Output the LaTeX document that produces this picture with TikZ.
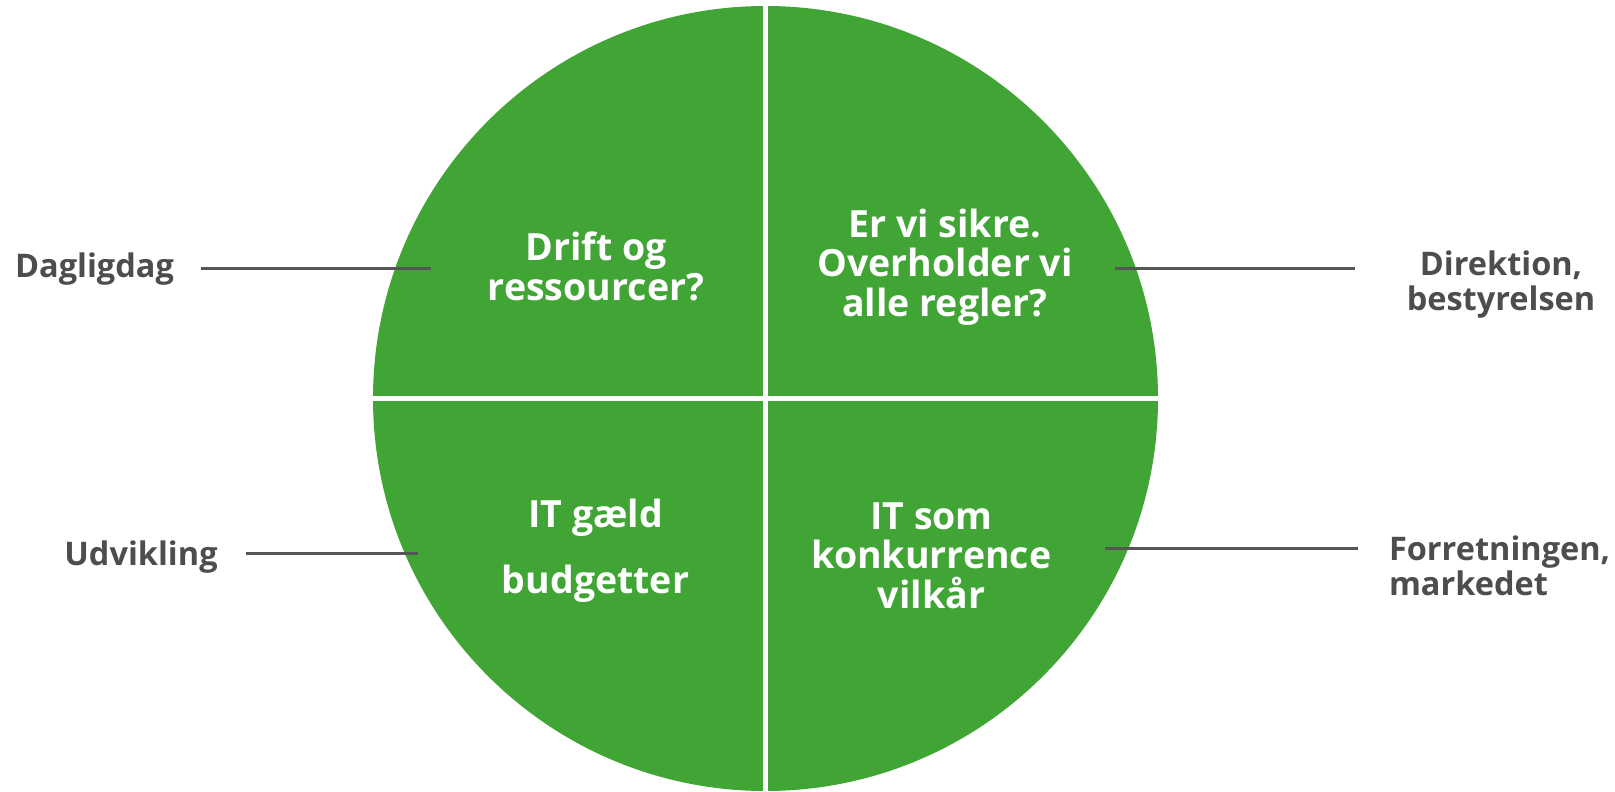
\documentclass[tikz,border=0pt]{standalone}
\usepackage{fontspec}
\setmainfont{Open Sans}
\definecolor{quadgreen}{RGB}{64,165,53}
\definecolor{labelgray}{RGB}{77,77,77}
\definecolor{leadgray}{RGB}{85,85,85}
\begin{document}
\begin{tikzpicture}[x=1pt,y=-1pt,
  quad/.style={text=white, align=center, inner sep=0pt, anchor=base, font=\bfseries\fontsize{37.5}{39.5}\selectfont},
  side/.style={text=labelgray, inner sep=0pt, outer xsep=27pt, anchor=base, font=\bfseries\fontsize{32.5}{34.5}\selectfont},
  leader/.style={draw=leadgray, line width=3pt},
  divider/.style={draw=white, line width=5pt}]
\useasboundingbox (0,0) rectangle (1615,792);

\node[circle, fill=quadgreen, inner sep=0pt, minimum size=785pt] (disc) at (765.5,398.5) {};
\path[divider] (disc.north) -- (disc.south);
\path[divider] (disc.west) -- (disc.east);

\node[quad] (drift) at (596,300) {Drift og\\ressourcer?};
\node[quad] (sikre) at (945,316) {Er vi sikre.\\Overholder vi\\alle regler?};
\node[quad] (gaeld) at (595.5,593) {IT gæld\\[26.5pt]budgetter};
\node[quad] (konk) at (931.5,608) {IT som\\konkurrence\\vilkår};

\coordinate (dagIn) at (431,268);
\coordinate (udvIn) at (418,553);
\coordinate (dirIn) at (1115,268);
\coordinate (forIn) at (1105,548.5);

\node[side] (dag) at (94.5,277) {Dagligdag};
\path[leader] (dagIn -| dag.east) -- (dagIn);
\node[side, outer xsep=28pt] (udv) at (141,565) {Udvikling};
\path[leader] (udvIn -| udv.east) -- (udvIn);
\node[side, align=center, outer xsep=52pt] (dir) at (1501,310) {Direktion,\\bestyrelsen};
\path[leader] (dirIn) -- (dirIn -| dir.west);
\node[side, align=left, anchor=base west, outer xsep=31pt] (forr) at (1358,595) {Forretningen,\\markedet};
\path[leader] (forIn) -- (forIn -| forr.west);
\end{tikzpicture}
\end{document}
